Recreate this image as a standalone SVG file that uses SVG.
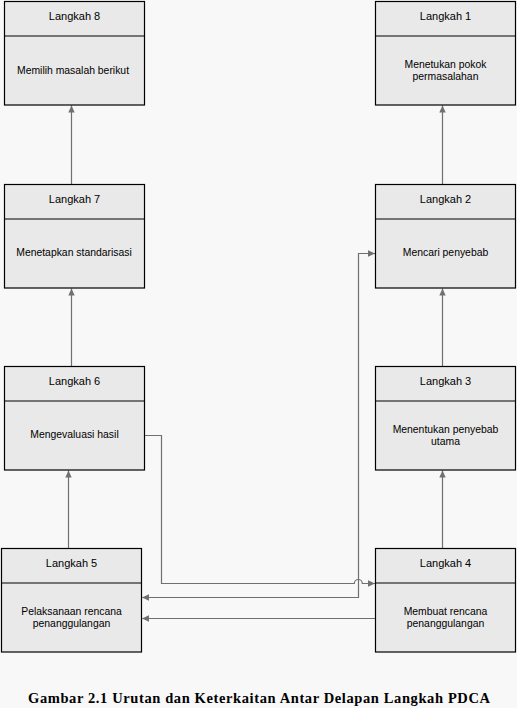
<svg xmlns="http://www.w3.org/2000/svg" width="517" height="708" viewBox="0 0 517 708">
<style>
.bg{fill:#f8f8f8}
.box rect,.box line{fill:#e9e9e9;stroke:#000;stroke-width:1.2}
.t{font-family:"Liberation Sans",Arial,sans-serif;font-size:11px;fill:#000;text-anchor:middle}
.b{font-size:10.4px}
.c{fill:none;stroke:#707070;stroke-width:1.2}
.cap{font-family:"Liberation Serif","Times New Roman",serif;font-size:14.5px;font-weight:bold;fill:#000;text-anchor:middle}
</style>
<defs>
<marker id="ah" markerUnits="userSpaceOnUse" markerWidth="8" markerHeight="8" viewBox="0 0 8 8" refX="7" refY="4" orient="auto-start-reverse">
<path d="M0,0.8 L7,4 L0,7.2 Z" fill="#707070"/>
</marker>
</defs>
<rect class="bg" x="0" y="0" width="517" height="708"/>

<g id="connectors">
<path class="c" d="M71.5,184 V105.5" marker-end="url(#ah)"/>
<path class="c" d="M71.5,366 V288.5" marker-end="url(#ah)"/>
<path class="c" d="M68.5,548 V470.5" marker-end="url(#ah)"/>
<path class="c" d="M442.5,184 V105.5" marker-end="url(#ah)"/>
<path class="c" d="M442.5,366 V288.5" marker-end="url(#ah)"/>
<path class="c" d="M442.5,548 V470.5" marker-end="url(#ah)"/>
<path class="c" d="M145,435.5 H161.5 V583.5 H354.3 A4,4 0 0 1 362.3,583.5 H375" marker-end="url(#ah)"/>
<path class="c" d="M375,253.5 H358.5 V597.5 H142" marker-start="url(#ah)" marker-end="url(#ah)"/>
<path class="c" d="M375,618.5 H142" marker-end="url(#ah)"/>
</g>

<g id="step8" class="box">
<rect x="4.5" y="1.5" width="140" height="103.5"/><line x1="4.5" y1="36" x2="144.5" y2="36"/>
<text class="t" x="74.5" y="20">Langkah 8</text>
<text class="t b" x="73" y="74">Memilih masalah berikut</text>
</g>
<g id="step7" class="box">
<rect x="4.5" y="184.5" width="140" height="103.5"/><line x1="4.5" y1="219" x2="144.5" y2="219"/>
<text class="t" x="74.5" y="203">Langkah 7</text>
<text class="t b" x="74" y="256">Menetapkan standarisasi</text>
</g>
<g id="step6" class="box">
<rect x="4.5" y="366.5" width="140" height="103.5"/><line x1="4.5" y1="401" x2="144.5" y2="401"/>
<text class="t" x="74.5" y="385">Langkah 6</text>
<text class="t b" x="74.5" y="438">Mengevaluasi hasil</text>
</g>
<g id="step5" class="box">
<rect x="1.5" y="548.5" width="140" height="103.5"/><line x1="1.5" y1="583" x2="141.5" y2="583"/>
<text class="t" x="71.5" y="567">Langkah 5</text>
<text class="t b" x="71.5" y="615">Pelaksanaan rencana</text>
<text class="t b" x="71.5" y="627">penanggulangan</text>
</g>
<g id="step1" class="box">
<rect x="375.5" y="1.5" width="140" height="103.5"/><line x1="375.5" y1="36" x2="515.5" y2="36"/>
<text class="t" x="445.5" y="20">Langkah 1</text>
<text class="t b" x="445.5" y="68">Menetukan pokok</text>
<text class="t b" x="445.5" y="80">permasalahan</text>
</g>
<g id="step2" class="box">
<rect x="375.5" y="184.5" width="140" height="103.5"/><line x1="375.5" y1="219" x2="515.5" y2="219"/>
<text class="t" x="445.5" y="203">Langkah 2</text>
<text class="t b" x="445.5" y="256">Mencari penyebab</text>
</g>
<g id="step3" class="box">
<rect x="375.5" y="366.5" width="140" height="103.5"/><line x1="375.5" y1="401" x2="515.5" y2="401"/>
<text class="t" x="445.5" y="385">Langkah 3</text>
<text class="t b" x="445.5" y="432.5">Menentukan penyebab</text>
<text class="t b" x="445.5" y="444.5">utama</text>
</g>
<g id="step4" class="box">
<rect x="375.5" y="548.5" width="140" height="103.5"/><line x1="375.5" y1="583" x2="515.5" y2="583"/>
<text class="t" x="445.5" y="567">Langkah 4</text>
<text class="t b" x="445.5" y="615">Membuat rencana</text>
<text class="t b" x="445.5" y="627">penanggulangan</text>
</g>

<text class="cap" x="259" y="703" textLength="462" lengthAdjust="spacing">Gambar 2.1 Urutan dan Keterkaitan Antar Delapan Langkah PDCA</text>
</svg>
